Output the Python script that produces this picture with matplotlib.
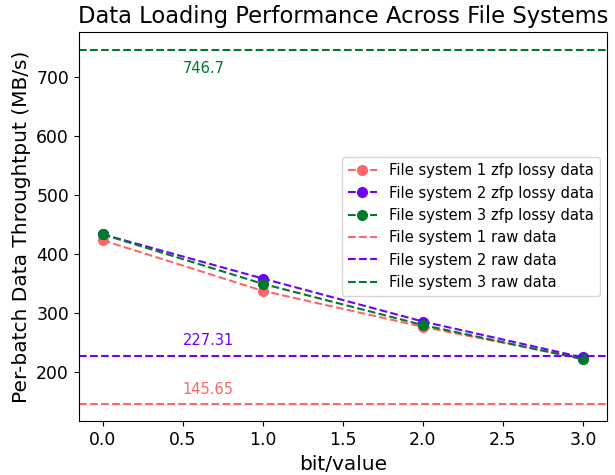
import matplotlib
matplotlib.use("Agg")
import matplotlib.pyplot as plt

bits = [0, 1, 2, 3]
fs1_zfp = [423, 337, 276, 222]
fs2_zfp = [433, 358, 285, 224]
fs3_zfp = [433, 349, 279, 221]
raw = [145.65, 227.31, 746.7]
names = ["File system 1", "File system 2", "File system 3"]
colors = ["#ff6666", "#6f00ff", "#00782d"]

fig, ax = plt.subplots(figsize=(6.15, 4.75), dpi=100)

for vals, name, c in zip([fs1_zfp, fs2_zfp, fs3_zfp], names, colors):
    ax.plot(bits, vals, "--o", color=c, markersize=7, label=name + " zfp lossy data")

text_off = [12, 12, -45]
for r, name, c, off in zip(raw, names, colors, text_off):
    ax.axhline(r, linestyle="--", color=c, label=name + " raw data")
    ax.text(0.5, r + off, str(r), color=c, ha="left", va="bottom", fontsize=10.5)

ax.set_title("Data Loading Performance Across File Systems", fontsize=16.3)
ax.set_xlabel("bit/value", fontsize=14.5)
ax.set_ylabel("Per-batch Data Throughtput (MB/s)", fontsize=14.5)
ax.tick_params(labelsize=12.4)
ax.legend(loc="center right", fontsize=10.6)

fig.subplots_adjust(left=0.128, right=0.987, top=0.933, bottom=0.113)
fig.savefig("out.png")
